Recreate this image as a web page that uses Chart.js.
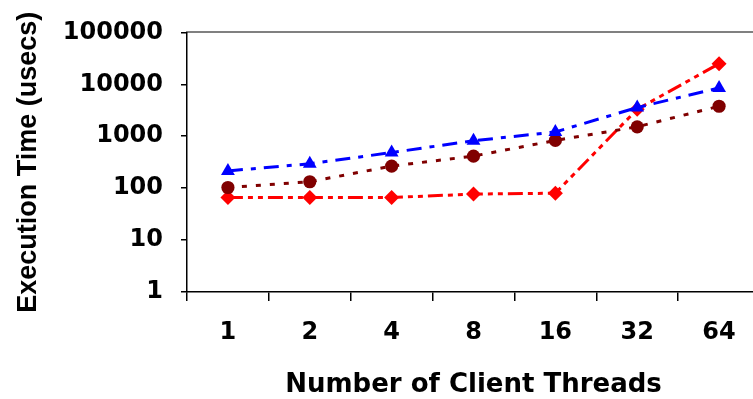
<!DOCTYPE html>
<html>
<head>
<meta charset="utf-8">
<script src="https://cdn.jsdelivr.net/npm/chart.js@4/dist/chart.umd.min.js"></script>
<style>
  html, body { margin: 0; padding: 0; background: #fff; overflow: hidden; }
  #wrap { width: 753px; height: 399px; overflow: hidden; }
</style>
</head>
<body>
<div id="wrap"><canvas id="execChart" width="768" height="399"></canvas></div>
<script>
const threadCounts = ["1", "2", "4", "8", "16", "32", "64"];
const blueTimes = [215, 295, 485, 820, 1210, 3570, 8500];
const darkRedTimes = [103, 133, 266, 415, 830, 1520, 3780];
const redTimes = [66, 66, 66, 77, 80, 3300, 25000];
const yTicks = [1, 10, 100, 1000, 10000, 100000];

const tickFont = { family: "DejaVu Sans", size: 24, weight: "bold" };

const ctx = document.getElementById("execChart");
new Chart(ctx, {
  type: "line",
  data: {
    labels: threadCounts,
    datasets: [
      {
        data: redTimes,
        borderColor: "#ff0000",
        backgroundColor: "#ff0000",
        borderWidth: 3,
        borderDash: [15, 5, 5, 5, 5, 5],
        pointStyle: "rectRot",
        pointRadius: 7.5,
        pointBorderWidth: 0,
        order: 3,
      },
      {
        data: darkRedTimes,
        borderColor: "#800000",
        backgroundColor: "#800000",
        borderWidth: 3,
        borderDash: [5, 9],
        pointStyle: "circle",
        pointRadius: 6.6,
        pointBorderWidth: 0,
        order: 2,
      },
      {
        data: blueTimes,
        borderColor: "#0000ff",
        backgroundColor: "#0000ff",
        borderWidth: 3,
        borderDash: [15, 8, 5, 8],
        pointStyle: "triangle",
        pointRadius: 8,
        pointBorderWidth: 0,
        order: 1,
      },
    ],
  },
  options: {
    responsive: false,
    animation: false,
    layout: { padding: 0 },
    plugins: { legend: { display: false }, tooltip: { enabled: false } },
    scales: {
      x: {
        type: "category",
        position: "bottom",
        offset: true,
        grid: { offset: true, drawOnChartArea: false, color: "#000", tickLength: 9, lineWidth: 1.5 },
        border: { color: "#000", width: 1.5 },
        ticks: { font: tickFont, color: "#000", padding: 17, maxRotation: 0 },
        title: {
          display: true,
          text: "Number of Client Threads",
          color: "#000",
          font: { family: "DejaVu Sans", size: 26, weight: "bold" },
          padding: { top: 0, bottom: -2 },
        },
        afterFit: (s) => { s.height = 107; },
      },
      top: {
        type: "category",
        position: "top",
        offset: true,
        grid: { display: false },
        ticks: { display: false },
        border: { color: "#808080", width: 2 },
        afterFit: (s) => { s.height = 26; },
      },
      y: {
        type: "logarithmic",
        position: "left",
        min: 1,
        max: 100000,
        afterBuildTicks: (s) => { s.ticks = yTicks.map((v) => ({ value: v })); },
        grid: { drawOnChartArea: false, color: "#000", tickLength: 6, lineWidth: 1.5 },
        border: { color: "#000", width: 1.5 },
        ticks: { font: tickFont, color: "#000", padding: 18, callback: (v) => String(v) },
        title: {
          display: true,
          text: "Execution Time (usecs)",
          color: "#000",
          font: { family: "Liberation Sans", size: 27, weight: "bold" },
          padding: { top: 12, bottom: 0 },
        },
        afterFit: (s) => { s.width = 187; },
      },
    },
  },
});
</script>
</body>
</html>
